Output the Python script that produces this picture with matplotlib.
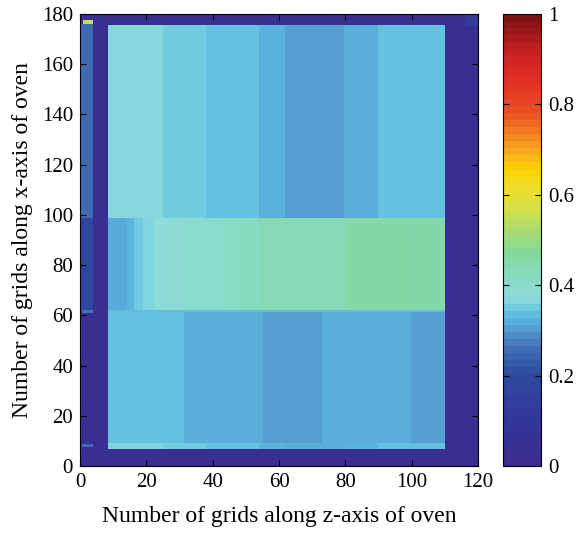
import numpy as np
import matplotlib
matplotlib.use("Agg")
import matplotlib.pyplot as plt
from matplotlib.colors import LinearSegmentedColormap, Normalize
from matplotlib.cm import ScalarMappable

plt.rcParams['font.family'] = ['Liberation Serif', 'DejaVu Serif']

# colour scale
cmap_pos = [0.0, 0.1, 0.2, 0.25, 0.29, 0.31, 0.33, 0.35, 0.37, 0.40, 0.44, 0.47, 0.52, 0.57,
            0.62, 0.66, 0.70, 0.75, 0.80, 0.87, 0.93, 1.0]
cmap_cols = ['#3b2c8e', '#32389a', '#2e4a9f', '#3e6ab2', '#5090c8', '#58a8d8', '#5cbae0', '#72cce0',
             '#8edcda', '#88dcc8', '#86dab4', '#82d898', '#a8dc70', '#d4e04a', '#f0de28', '#fed200',
             '#f8a820', '#f07522', '#e84822', '#dc2c24', '#c02020', '#7c1212']

# field values, region by region (x = z-axis grid, y = x-axis grid)
border_val = 0.03

left_strip_x = [0.4, 3.9]
left_strip_y = [61.5, 98.6, 175.5]
left_strip_vals = [0.18, 0.25]

spot_x = [[0.8, 3.9], [0.6, 3.9], [0.6, 3.9], [116.0, 120.0]]
spot_y = [[175.5, 177.3], [60.8, 61.8], [7.5, 8.8], [175.0, 180.0]]
spot_vals = [0.555, 0.26, 0.25, 0.12]

top_y = [98.4, 175.3]
top_edges = [8.4, 24.9, 37.9, 54, 61.7, 79.6, 90, 110]
top_vals = [0.365, 0.35, 0.338, 0.322, 0.303, 0.318, 0.338]

mid_y = [62.1, 98.4]
mid_edges = [8.4, 14.3, 16.3, 19, 22.3, 26.5, 32, 43, 48.5, 54, 80.6, 99.8, 110]
mid_vals = [0.313, 0.328, 0.348, 0.36, 0.372, 0.38, 0.39, 0.405, 0.42, 0.44, 0.455, 0.45]

line_y = [61.0, 62.1]
line_val = 0.335

bot_y = [9.0, 61.0]
bot_edges = [8.4, 31.3, 55.2, 73, 99.8, 110]
bot_vals = [0.338, 0.318, 0.303, 0.318, 0.303]

strip_y = [6.8, 9.0]
strip_edges = [8.4, 24.9, 37.9, 54, 61.7, 79.6, 90, 110]
strip_vals = [0.36, 0.35, 0.338, 0.325, 0.318, 0.325, 0.338]

# build the grid (0.1 cell)
res = 0.1
xc = np.arange(0, 120, res) + res / 2
yc = np.arange(0, 180, res) + res / 2
X, Y = np.meshgrid(xc, yc)
field = np.full(X.shape, border_val)


def fill(x0, x1, y0, y1, v):
    field[(X >= x0) & (X < x1) & (Y >= y0) & (Y < y1)] = v


for i, v in enumerate(left_strip_vals):
    fill(left_strip_x[0], left_strip_x[1], left_strip_y[i], left_strip_y[i + 1], v)
for edges, vals, ys in [(top_edges, top_vals, top_y), (mid_edges, mid_vals, mid_y),
                        (bot_edges, bot_vals, bot_y), (strip_edges, strip_vals, strip_y)]:
    for i, v in enumerate(vals):
        fill(edges[i], edges[i + 1], ys[0], ys[1], v)
fill(8.4, 110, line_y[0], line_y[1], line_val)
for sx, sy, v in zip(spot_x, spot_y, spot_vals):
    fill(sx[0], sx[1], sy[0], sy[1], v)

stops = list(zip(cmap_pos, cmap_cols))
cmap_fine = LinearSegmentedColormap.from_list('oven_fine', stops, N=512)
cmap_bar = LinearSegmentedColormap.from_list('oven_bar', stops, N=64)

fig = plt.figure(figsize=(5.82, 5.36), dpi=100)
ax = fig.add_axes([0.1375, 0.1306, 0.6838, 0.8433])
im = ax.imshow(field, origin='lower', extent=[0, 120, 0, 180], aspect='auto',
               cmap=cmap_fine, vmin=0, vmax=1, interpolation='nearest')
ax.set_xticks(range(0, 121, 20))
ax.set_yticks(range(0, 181, 20))
ax.tick_params(direction='in', top=True, right=True, labelsize=15, length=4, pad=5)
ax.set_xlabel('Number of grids along z-axis of oven', fontsize=17, labelpad=10)
ax.set_ylabel('Number of grids along x-axis of oven', fontsize=17, labelpad=6)

cax = fig.add_axes([0.8643, 0.1306, 0.0653, 0.8433])
cb = fig.colorbar(ScalarMappable(norm=Normalize(0, 1), cmap=cmap_bar), cax=cax,
                  ticks=[0, 0.2, 0.4, 0.6, 0.8, 1])
cb.ax.set_yticklabels(['0', '0.2', '0.4', '0.6', '0.8', '1'])
cb.ax.tick_params(direction='in', left=True, right=True, labelsize=15, length=4, pad=5)

plt.savefig('out.png', dpi=100)
